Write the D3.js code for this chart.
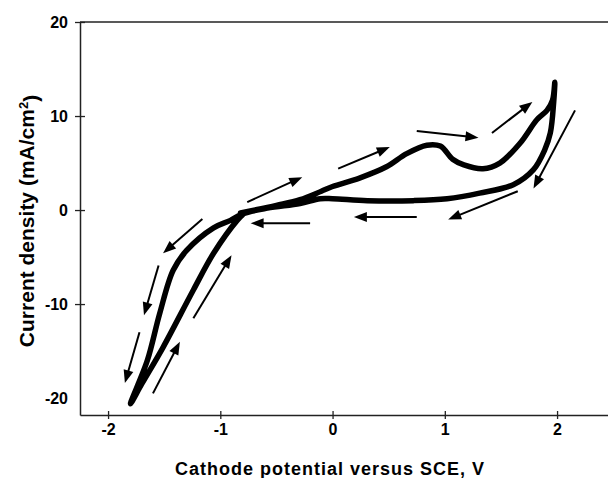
<!DOCTYPE html>
<html>
<head>
<meta charset="utf-8">
<script src="https://cdn.jsdelivr.net/npm/d3@7"></script>
<style>
  body { margin: 0; background: #fff; }
  text { font-family: "Liberation Sans", Arial, sans-serif; font-weight: bold; fill: #000; }
</style>
</head>
<body>
<div id="chart"></div>
<script>
// Tick values
const xTicks = [-2, -1, 0, 1, 2];
const yTicks = [-20, -10, 0, 10, 20];

// Cyclic voltammogram loop, in scan order (potential V, current density mA/cm2)
const loopE = [-0.82, -0.5, -0.29, -0.1, 0.0, 0.24, 0.48, 0.66, 0.84, 0.96, 1.07, 1.17, 1.34, 1.49, 1.67, 1.82, 1.91, 1.96, 1.98,
               1.97, 1.94, 1.89, 1.79, 1.61, 1.31, 1.02, 0.72, 0.31, 0.0, -0.11, -0.29, -0.58, -0.8, -0.91, -1.06, -1.3, -1.42, -1.54, -1.65, -1.8,
               -1.7, -1.51, -1.24, -1.06, -0.85, -0.8];
const loopJ = [-0.3, 0.5, 1.1, 2.0, 2.5, 3.4, 4.6, 6.0, 6.9, 6.8, 5.4, 4.8, 4.4, 5.0, 7.1, 9.6, 10.6, 11.7, 13.6,
               11.5, 8.2, 6.4, 4.3, 2.7, 1.8, 1.2, 1.0, 1.0, 1.2, 1.2, 0.7, 0.2, -0.4, -1.1, -1.9, -4.3, -6.4, -11, -16, -20.6,
               -18.5, -14.6, -8.5, -4.6, -1.1, -0.5];

// Scan-direction arrows: start and end points
const arrowE1 = [-1.16, -1.55, -1.72, -1.6, -1.24, -0.2, -0.76, 0.05, 0.75, 0.75, 1.42, 2.16, 1.65];
const arrowJ1 = [-0.96, -5.9, -13.0, -19.5, -11.5, -1.4, 0.85, 4.4, -0.75, 8.4, 8.2, 10.6, 2.0];
const arrowE2 = [-1.51, -1.68, -1.85, -1.36, -0.9, -0.73, -0.27, 0.51, 0.19, 1.3, 1.78, 1.79, 1.03];
const arrowJ2 = [-4.6, -11.2, -18.4, -14.0, -4.8, -1.4, 3.5, 6.7, -0.75, 7.7, 11.5, 2.3, -1.0];

const W = 608, H = 478;

const svg = d3.select("#chart")
    .append("svg")
    .attr("width", W)
    .attr("height", H);

const x = d3.scaleLinear()
    .domain([-2.25, 2.5])
    .range([80, 80 + 112.25 * 4.75]);

const y = d3.scaleLinear()
    .domain([-21.8, 20])
    .range([415, 22]);

// Top border
svg.append("line")
    .attr("x1", 80).attr("x2", W)
    .attr("y1", 22).attr("y2", 22)
    .attr("stroke", "#222")
    .attr("stroke-width", 1.5);

// X axis
const gx = svg.append("g")
    .attr("transform", "translate(0,415)")
    .call(d3.axisBottom(x).tickValues(xTicks).tickFormat(d => String(d))
        .tickSize(4).tickSizeOuter(0).tickPadding(5));
gx.selectAll(".tick line").attr("y1", -4).attr("stroke", "#222").attr("stroke-width", 1.3);

// Y axis
const gy = svg.append("g")
    .attr("transform", "translate(80,0)")
    .call(d3.axisLeft(y).tickValues(yTicks).tickFormat(d => String(d))
        .tickSize(5).tickSizeOuter(0).tickPadding(7));
gy.selectAll(".tick line").attr("x1", 5).attr("stroke", "#222").attr("stroke-width", 1.3);
gy.selectAll(".tick").filter(d => d === -20).select("line").remove();

[gx, gy].forEach(g => {
    g.select(".domain").attr("stroke", "#222").attr("stroke-width", 1.5);
    g.selectAll("text").style("font-size", "16px").style("font-weight", "bold");
});

// Axis titles
svg.append("text")
    .attr("x", 330)
    .attr("y", 475)
    .style("text-anchor", "middle")
    .style("font-size", "18px")
    .style("letter-spacing", "1px")
    .text("Cathode potential versus SCE, V");

const yt = svg.append("text")
    .attr("transform", "translate(34,221) rotate(-90)")
    .style("text-anchor", "middle")
    .style("font-size", "21px");
yt.append("tspan").text("Current density (mA/cm");
yt.append("tspan").attr("dy", "-0.45em").style("font-size", "13px").text("2");
yt.append("tspan").attr("dy", "0.45em").text(")");

// The voltammogram
const loop = loopE.map((e, i) => [e, loopJ[i]]);
const line = d3.line()
    .x(d => x(d[0]))
    .y(d => y(d[1]))
    .curve(d3.curveCatmullRom.alpha(0.5));

svg.append("path")
    .datum(loop)
    .attr("fill", "none")
    .attr("stroke", "#000")
    .attr("stroke-width", 5.5)
    .attr("stroke-linejoin", "round")
    .attr("stroke-linecap", "round")
    .attr("d", line);

// Arrows
const headLen = 13, headW = 5;
arrowE1.forEach((e, i) => {
    const x1 = x(e), y1 = y(arrowJ1[i]);
    const x2 = x(arrowE2[i]), y2 = y(arrowJ2[i]);
    const len = Math.hypot(x2 - x1, y2 - y1);
    const ux = (x2 - x1) / len, uy = (y2 - y1) / len;
    const bx = x2 - ux * headLen, by = y2 - uy * headLen;
    svg.append("line")
        .attr("x1", x1).attr("y1", y1)
        .attr("x2", bx + ux * 2).attr("y2", by + uy * 2)
        .attr("stroke", "#000")
        .attr("stroke-width", 2);
    svg.append("path")
        .attr("d", `M${x2},${y2}L${bx - uy * headW},${by + ux * headW}L${bx + uy * headW},${by - ux * headW}Z`)
        .attr("fill", "#000");
});
</script>
</body>
</html>
